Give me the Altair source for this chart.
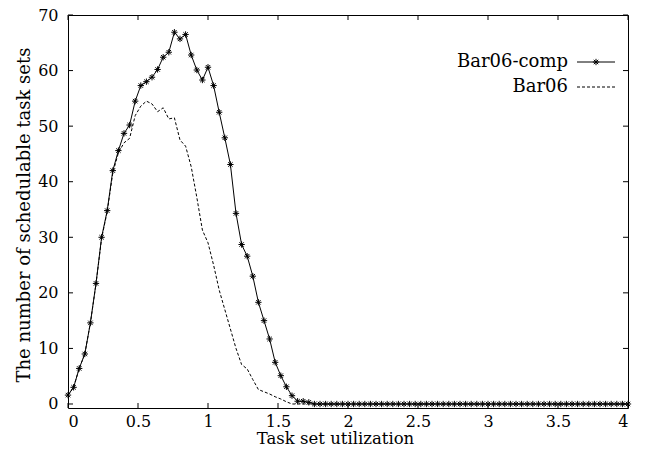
import altair as alt
import pandas as pd

# ---------------- data ----------------
utilization = [
    0.00, 0.04, 0.08, 0.12, 0.16, 0.20, 0.24, 0.28, 0.32, 0.36,
    0.40, 0.44, 0.48, 0.52, 0.56, 0.60, 0.64, 0.68, 0.72, 0.76,
    0.80, 0.84, 0.88, 0.92, 0.96, 1.00, 1.04, 1.08, 1.12, 1.16,
    1.20, 1.24, 1.28, 1.32, 1.36, 1.40, 1.44, 1.48, 1.52, 1.56,
    1.60, 1.64, 1.68, 1.72, 1.76, 1.80, 1.84, 1.88, 1.92, 1.96,
    2.00, 2.04, 2.08, 2.12, 2.16, 2.20, 2.24, 2.28, 2.32, 2.36,
    2.40, 2.44, 2.48, 2.52, 2.56, 2.60, 2.64, 2.68, 2.72, 2.76,
    2.80, 2.84, 2.88, 2.92, 2.96, 3.00, 3.04, 3.08, 3.12, 3.16,
    3.20, 3.24, 3.28, 3.32, 3.36, 3.40, 3.44, 3.48, 3.52, 3.56,
    3.60, 3.64, 3.68, 3.72, 3.76, 3.80, 3.84, 3.88, 3.92, 3.96,
    4.00,
]

bar06_comp = [
    1.6, 3.0, 6.4, 9.0, 14.6, 21.7, 30.0, 34.8, 42.0, 45.6,
    48.7, 50.2, 54.5, 57.3, 58.0, 58.8, 60.2, 62.4, 63.3, 66.9,
    65.7, 66.5, 62.8, 60.1, 58.3, 60.6, 57.3, 52.5, 47.9, 43.1,
    34.3, 28.7, 26.6, 23.0, 18.3, 15.0, 11.7, 7.5, 5.1, 3.1,
    1.5, 0.5, 0.5, 0.3, 0, 0, 0, 0, 0, 0,
    0, 0, 0, 0, 0, 0, 0, 0, 0, 0,
    0, 0, 0, 0, 0, 0, 0, 0, 0, 0,
    0, 0, 0, 0, 0, 0, 0, 0, 0, 0,
    0, 0, 0, 0, 0, 0, 0, 0, 0, 0,
    0, 0, 0, 0, 0, 0, 0, 0, 0, 0,
    0,
]

bar06 = [
    1.6, 3.0, 6.4, 9.0, 14.6, 21.6, 29.8, 34.6, 41.6, 45.2,
    47.0, 47.8, 51.9, 53.6, 54.5, 54.0, 52.6, 53.3, 51.3, 51.5,
    47.5, 46.4, 42.7, 37.2, 31.3, 29.0, 25.0, 20.5, 17.0, 13.5,
    10.0, 7.1, 6.3, 4.4, 2.6, 2.2, 1.8, 1.3, 0.9, 0.4,
    0.0, 0, 0, 0, 0, 0, 0, 0, 0, 0,
    0, 0, 0, 0, 0, 0, 0, 0, 0, 0,
    0, 0, 0, 0, 0, 0, 0, 0, 0, 0,
    0, 0, 0, 0, 0, 0, 0, 0, 0, 0,
    0, 0, 0, 0, 0, 0, 0, 0, 0, 0,
    0, 0, 0, 0, 0, 0, 0, 0, 0, 0,
    0,
]

series_names = ["Bar06-comp", "Bar06"]
x_ticks = [0, 0.5, 1, 1.5, 2, 2.5, 3, 3.5, 4]
y_ticks = [0, 10, 20, 30, 40, 50, 60, 70]
x_title = "Task set utilization"
y_title = "The number of schedulable task sets"

# ---------------- layout ----------------
W, H = 560, 393
FONT = "DejaVu Serif"
TICK_LEN = 5
ASTERISK = "M-1,0L1,0M0,-1L0,1M-0.7,-0.7L0.7,0.7M-0.7,0.7L0.7,-0.7"

df_comp = pd.DataFrame({"u": utilization, "n": bar06_comp})
df_bar = pd.DataFrame({"u": utilization, "n": bar06})
df_xt = pd.DataFrame({"u": x_ticks})
df_yt = pd.DataFrame({"n": y_ticks})

xscale = alt.Scale(domain=[0, 4], nice=False, zero=False)
yscale = alt.Scale(domain=[-0.72, 70], nice=False, zero=False)

x_axis = alt.Axis(
    values=x_ticks, format="~g", grid=False, ticks=False, domain=False,
    labelFont=FONT, labelFontSize=16, labelColor="black", labelPadding=5,
    title=x_title, titleFont=FONT, titleFontSize=16.5, titleFontWeight="normal",
    titleColor="black", titleX=267, titleY=35, titleBaseline="alphabetic",
)
y_axis = alt.Axis(
    values=y_ticks, grid=False, ticks=False, domain=False,
    labelFont=FONT, labelFontSize=16, labelColor="black", labelPadding=10,
    title=y_title, titleFont=FONT, titleFontSize=18, titleFontWeight="normal",
    titleColor="black", titleX=-44, titleY=H / 2 + 3, titleBaseline="middle",
)

X = alt.X("u:Q", scale=xscale, axis=x_axis)
Y = alt.Y("n:Q", scale=yscale, axis=y_axis)

comp_line = alt.Chart(df_comp).mark_line(color="black", strokeWidth=1).encode(x=X, y=Y)
comp_pts = alt.Chart(df_comp).mark_point(
    shape=ASTERISK, size=40, filled=False, color="black", strokeWidth=1, opacity=1
).encode(x="u:Q", y="n:Q")
bar_line = alt.Chart(df_bar).mark_line(
    color="black", strokeWidth=1, strokeDash=[3, 2]
).encode(x="u:Q", y="n:Q")

# inward ticks on all four sides
tb = alt.Chart(df_xt).mark_rule(color="black", strokeWidth=1).encode(
    x="u:Q", y=alt.value(H), y2=alt.value(H - TICK_LEN))
tt = alt.Chart(df_xt).mark_rule(color="black", strokeWidth=1).encode(
    x="u:Q", y=alt.value(0), y2=alt.value(TICK_LEN))
tl = alt.Chart(df_yt).mark_rule(color="black", strokeWidth=1).encode(
    y="n:Q", x=alt.value(0), x2=alt.value(TICK_LEN))
tr = alt.Chart(df_yt).mark_rule(color="black", strokeWidth=1).encode(
    y="n:Q", x=alt.value(W), x2=alt.value(W - TICK_LEN))

# legend (gnuplot style: label left of sample)
LX_TEXT, LX0, LX1 = 500, 509, 547
LY = [47, 72]
leg = []
for i, name in enumerate(series_names):
    d = pd.DataFrame({"name": [name]})
    leg.append(alt.Chart(d).mark_text(
        align="right", baseline="middle", font=FONT, fontSize=18, color="black"
    ).encode(text="name:N", x=alt.value(LX_TEXT), y=alt.value(LY[i])))
    if i == 0:
        leg.append(alt.Chart(d).mark_rule(color="black", strokeWidth=1).encode(
            x=alt.value(LX0), x2=alt.value(LX1), y=alt.value(LY[i])))
        leg.append(alt.Chart(d).mark_point(
            shape=ASTERISK, size=40, filled=False, color="black", strokeWidth=1, opacity=1
        ).encode(x=alt.value((LX0 + LX1) / 2), y=alt.value(LY[i])))
    else:
        leg.append(alt.Chart(d).mark_rule(
            color="black", strokeWidth=1, strokeDash=[3, 2]
        ).encode(x=alt.value(LX0), x2=alt.value(LX1), y=alt.value(LY[i])))

chart = alt.layer(
    bar_line, comp_line, comp_pts, tb, tt, tl, tr, *leg
).properties(
    width=W, height=H,
    autosize=alt.AutoSizeParams(type="none"),
    padding={"left": 60, "top": 7, "right": 15, "bottom": 36},
    background="white",
).configure_view(stroke="black", strokeWidth=1)

chart.save("out.html", embed_options={"renderer": "svg", "actions": False})
